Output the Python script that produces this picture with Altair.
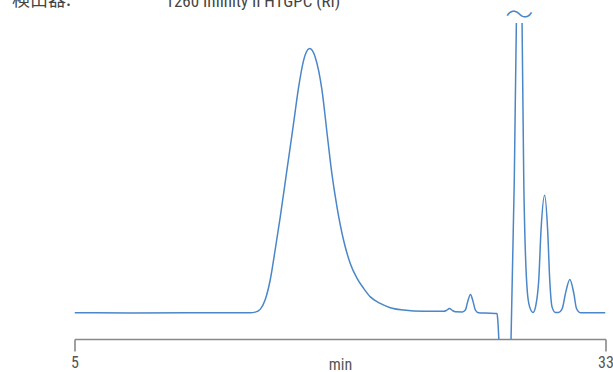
import altair as alt
import pandas as pd

# retention time (min) and detector signal (relative units)
time_min = [5.0, 8.0, 11.0, 14.0, 14.26, 14.53, 14.79, 15.05, 15.32, 15.58, 15.85, 16.20, 16.55,
            16.82, 17.08, 17.40, 17.69, 18.05, 18.34, 18.57, 18.84, 19.19, 19.54, 19.90,
            20.25, 20.60, 21.12, 21.65, 22.35, 23.41, 24.47, 24.62, 24.77, 24.92, 25.08,
            25.45, 25.61, 25.73, 25.88, 26.02, 26.14, 26.31, 26.67, 27.20, 27.28, 27.32,
            27.41, 27.56, 27.78, 27.93, 28.02, 28.19, 28.30, 28.45, 28.60, 28.69, 28.87,
            29.00, 29.18, 29.33, 29.48, 29.60, 29.79, 29.95, 30.06, 30.18, 30.36, 30.52,
            30.72, 30.89, 31.12, 31.33, 31.47, 31.68, 32.3, 33.0]
signal = [0.0, -0.1, 0.0, 0.0, 0.0, 0.2, 1.25, 4.8, 12.4, 23.8, 36.4, 54.1, 71.8,
          85.7, 95.8, 100.3, 97.1, 84.5, 66.7, 52.9, 40.2, 27.5, 18.7, 13.0,
          9.2, 6.0, 3.5, 1.9, 1.0, 0.5, 0.5, 0.9, 1.6, 0.9, 0.35,
          0.3, 1.0, 4.1, 6.9, 4.1, 1.0, 0.0, -0.15, -0.27, -0.3, -2.8,
          -15.0, -28.0, -30.0, -20.0, -9.75, 50.3, 110.0, 150.0, 110.0, 50.3, 8.6,
          2.2, 0.1, 2.9, 12.4, 31.3, 44.6, 31.3, 12.4, 2.2, 0.1, 0.1,
          1.6, 7.3, 12.6, 7.3, 1.6, 0.0, 0.0, 0.0]

axis_ticks = [5, 33]
axis_title = "min"
header_label = "検出器:"
header_value = "1260 Infinity II HTGPC (RI)"
break_time = [28.45]
break_glyph = ["〜"]

LINE = "#4a86c8"
FONT = "Roboto Condensed, Roboto, sans-serif"

df = pd.DataFrame({"t": time_min, "s": signal})

x_scale = alt.Scale(domain=[5, 33], nice=False, zero=False)
y_scale = alt.Scale(domain=[-10, 110], nice=False, zero=False)

line = alt.Chart(df).mark_line(
    color=LINE, strokeWidth=1.5, interpolate="monotone", clip=True
).encode(
    x=alt.X("t:Q", scale=x_scale,
            axis=alt.Axis(values=axis_ticks, title=axis_title, grid=False,
                          domainColor="#888888", domainWidth=1.6,
                          tickColor="#888888", tickWidth=1.6, tickSize=12,
                          labelColor="#555555", labelFontSize=16, labelFont=FONT,
                          labelPadding=3, labelFlush=False,
                          titleFont=FONT, titleFontSize=16, titleFontWeight="normal",
                          titleColor="#555555", titleY=30, titleBaseline="alphabetic")),
    y=alt.Y("s:Q", scale=y_scale, axis=None),
)

brk = alt.Chart(pd.DataFrame({"t": break_time, "lab": break_glyph})).mark_text(
    color=LINE, fontSize=28, font="Noto Sans CJK JP", fontWeight=300,
    baseline="middle", align="center"
).encode(
    x=alt.X("t:Q", scale=x_scale),
    y=alt.value(-6),
    text="lab:N",
)

hdr1 = alt.Chart(pd.DataFrame({"lab": [header_label]})).mark_text(
    color="#444444", fontSize=18, font="Noto Sans CJK JP", align="left", baseline="alphabetic"
).encode(x=alt.value(-62.5), y=alt.value(-17), text="lab:N")

hdr2 = alt.Chart(pd.DataFrame({"lab": [header_value]})).mark_text(
    color="#444444", fontSize=17, font=FONT, align="left", baseline="alphabetic"
).encode(x=alt.value(91), y=alt.value(-16), text="lab:N")

chart = alt.layer(line, brk, hdr1, hdr2).properties(
    width=531, height=316,
    autosize=alt.AutoSizeParams(type="none"),
    padding={"left": 74.5, "top": 23, "right": 7.5, "bottom": 33},
).configure_view(stroke=None)

chart.save("out.html", embed_options={"renderer": "svg", "actions": False})
